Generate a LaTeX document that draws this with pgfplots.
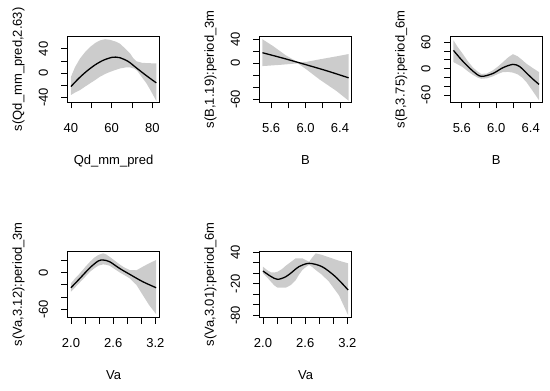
\documentclass[border=0pt]{standalone}
\usepackage{fontspec}
\setmainfont{Liberation Sans}
\usepackage{pgfplots}
\pgfplotsset{compat=1.18}
\pgfplotsset{
  gam/.style={
    scale only axis, width=92.5bp, height=66.5bp, anchor=south west,
    axis line style={line width=0.9bp},
    tick align=outside, major tick length=6bp,
    tick style={black, line width=0.9bp},
    xtick pos=left, ytick pos=left,
    xticklabel style={yshift=-20bp, anchor=center},
    yticklabel style={xshift=-18bp, rotate=90, anchor=center},
    every axis x label/.style={at={(axis description cs:0.5,-0.93)}, anchor=base},
    every axis y label/.style={at={(axis description cs:-0.49,0.5)}, rotate=90, anchor=base},
  }
}
\tikzset{cband/.style={fill=black!20, draw=none}, cfit/.style={black, line width=1.3bp, smooth}}
\begin{document}
\begin{tikzpicture}[font=\fontsize{13bp}{15bp}\selectfont]
\path (0bp,0bp) rectangle (550bp,391bp);

% Panel 1
\begin{axis}[gam, at={(67.3bp,288.5bp)},
  xmin=38.2, xmax=83.6, ymin=-48.4, ymax=61.3,
  xtick={40,50,60,70,80}, xticklabels={40,,60,,80},
  ytick={-40,-20,0,20,40}, yticklabels={-40,,0,,40},
  xlabel={Qd\_mm\_pred}, ylabel={s(Qd\_mm\_pred,2.63)}]
\addplot[cband] coordinates {(40,-6) (42,10) (44.4,24) (47,35) (49.3,43) (52,50) (54.2,54) (56.7,56) (59.1,55) (62,52) (64,48.7) (66.5,41) (68.9,33) (70.5,25) (72.2,19.5) (75,17) (78,16.5) (81.9,16)
 (81.9,-46) (79.5,-31) (77.1,-17) (74,-3) (72.5,4) (71,7.5) (69,9.5) (67,9.5) (64,7.7) (62,5.5) (59.1,2) (57,-1) (54.2,-6) (52,-11) (49.3,-17) (47,-22) (44.4,-28) (42,-32) (40,-36)};
\addplot[cfit] coordinates {(40,-22) (44,-8) (48,4) (52,14) (56,21.5) (60,26) (62,26.5) (64,25.5) (68,19.5) (72,9) (76,-1.5) (80,-11.5) (81.9,-16)};
\end{axis}

% Panel 2
\begin{axis}[gam, at={(259.3bp,288.5bp)},
  xmin=5.463, xmax=6.537, ymin=-65, ymax=45.5,
  xtick={5.6,5.8,6.0,6.2,6.4}, xticklabels={5.6,,6.0,,6.4},
  ytick={-60,-40,-20,0,20,40}, yticklabels={-60,,,0,,40},
  xlabel={B}, ylabel={s(B,1.19):period\_3m}]
\addplot[cband] coordinates {(5.5,40) (5.62,29) (5.77,13.5) (5.91,2) (6.01,2.5) (6.16,6.6) (6.36,11.7) (6.5,15.5)
 (6.5,-62) (6.36,-46) (6.16,-26.5) (6.01,-10) (5.91,0) (5.7,-2.5) (5.5,-4.5)};
\addplot[cfit] coordinates {(5.5,17.7) (5.75,8.2) (6.0,-2) (6.25,-12.5) (6.5,-24)};
\end{axis}

% Panel 3
\begin{axis}[gam, at={(450bp,288.5bp)},
  xmin=5.463, xmax=6.537, ymin=-77, ymax=74.4,
  xtick={5.6,5.8,6.0,6.2,6.4}, xticklabels={5.6,,6.0,,6.4},
  ytick={-60,-40,-20,0,20,40,60}, yticklabels={-60,,,0,,,60},
  xlabel={B}, ylabel={s(B,3.75):period\_6m}]
\addplot[cband] coordinates {(5.503,64.5) (5.55,50) (5.61,34) (5.67,17) (5.728,3) (5.78,-6) (5.825,-12) (5.89,-11) (5.96,-3.9) (6.02,5) (6.078,15) (6.14,26) (6.194,33) (6.25,28) (6.3,20) (6.35,11.4) (6.42,2) (6.497,-8)
 (6.497,-72) (6.42,-50) (6.35,-30.5) (6.3,-20) (6.25,-13) (6.194,-9) (6.14,-7.5) (6.078,-7.7) (6.02,-12) (5.96,-17.5) (5.89,-22) (5.825,-23) (5.78,-20) (5.728,-14) (5.67,-6) (5.61,3.6) (5.55,10) (5.503,15)};
\addplot[cfit] coordinates {(5.503,41.7) (5.553,30) (5.61,17.3) (5.728,-5.4) (5.825,-17.5) (5.96,-11) (6.078,2.3) (6.194,9.8) (6.27,5) (6.35,-9.6) (6.42,-22.8) (6.497,-35.8)};
\end{axis}

% Panel 4
\begin{axis}[gam, at={(67.3bp,73.5bp)},
  xmin=1.948, xmax=3.262, ymin=-73.4, ymax=35.6,
  xtick={2.0,2.2,2.4,2.6,2.8,3.0,3.2}, xticklabels={2.0,,,2.6,,,3.2},
  ytick={-60,-40,-20,0,20}, yticklabels={-60,,,0,},
  xlabel={Va}, ylabel={s(Va,3.12):period\_3m}]
\addplot[cband] coordinates {(2.0,-17.4) (2.06,-9) (2.127,-1) (2.2,9) (2.27,18) (2.33,24.5) (2.387,29) (2.458,31.8) (2.5,30) (2.55,26) (2.62,20) (2.69,13.7) (2.76,8.5) (2.836,4.4) (2.93,4) (3.02,9.8) (3.11,15.4) (3.21,20.8)
 (3.21,-68) (3.11,-53) (3.02,-36.6) (2.93,-20) (2.836,-9.3) (2.76,-4) (2.69,0.6) (2.62,6) (2.55,11.5) (2.5,13) (2.458,13.7) (2.387,11.5) (2.33,7) (2.27,1.6) (2.2,-7) (2.127,-15.8) (2.06,-24) (2.0,-31)};
\addplot[cfit] coordinates {(2.0,-24.6) (2.127,-9.3) (2.27,8.2) (2.387,19.2) (2.458,20.8) (2.55,18) (2.69,7.1) (2.836,-2.7) (3.02,-14.7) (3.21,-24.6)};
\end{axis}

% Panel 5
\begin{axis}[gam, at={(259.3bp,73.5bp)},
  xmin=1.948, xmax=3.262, ymin=-84.2, ymax=42.5,
  xtick={2.0,2.2,2.4,2.6,2.8,3.0,3.2}, xticklabels={2.0,,,2.6,,,3.2},
  ytick={-80,-60,-40,-20,0,20,40}, yticklabels={-80,,,-20,,,40},
  xlabel={Va}, ylabel={s(Va,3.01):period\_6m}]
\addplot[cband] coordinates {(2.0,12.6) (2.06,6) (2.113,2) (2.16,1.5) (2.208,3) (2.27,8) (2.325,14.5) (2.4,22) (2.466,28.6) (2.56,28.6) (2.61,25) (2.655,22) (2.7,30) (2.749,38) (2.84,35) (2.938,30.5) (3.08,24) (3.21,19)
 (3.21,-80) (3.08,-42) (2.938,-16) (2.84,-3) (2.749,6.3) (2.7,12) (2.655,16) (2.61,12) (2.56,6.3) (2.51,-3) (2.466,-12.8) (2.4,-22) (2.325,-27.4) (2.208,-27.4) (2.16,-23) (2.113,-16) (2.06,-8) (2.0,0)};
\addplot[cfit] coordinates {(2.0,4.4) (2.113,-6) (2.208,-11.5) (2.325,-6.5) (2.42,3) (2.51,12.6) (2.655,19) (2.84,12.6) (3.03,-6.5) (3.21,-31.8)};
\end{axis}
\end{tikzpicture}
\end{document}
